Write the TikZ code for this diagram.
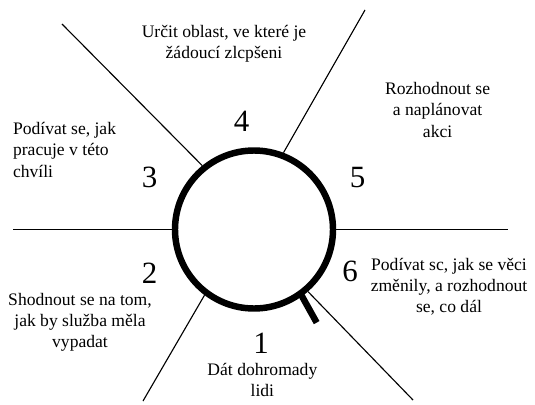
\documentclass[tikz,border=0pt]{standalone}
\usepackage{fontspec}
\setmainfont{Liberation Serif}
\usepackage{tikz}
\usetikzlibrary{positioning}

\begin{document}
\begin{tikzpicture}[
    ring/.style={draw, circle, line width=4.6pt, minimum size=3.95cm, inner sep=0pt},
    spoke/.style={line width=0.8pt},
    num/.style={font=\fontsize{22}{22}\selectfont, inner sep=0pt},
    stage/.style={font=\fontsize{12.5}{15}\selectfont, align=center, inner sep=0pt},
]
\useasboundingbox (-6.35,-4.3625) rectangle (7.025,5.7375);

\node[ring] (hub) at (0,0) {};

% free ends of the spokes
\coordinate (out0) at (6.35,0);
\coordinate (out69) at (2.775,5.4875);
\coordinate (out129) at (-4.8,5.1375);
\coordinate (out180) at (-6.025,0);
\coordinate (out233) at (-2.775,-4.2875);
\coordinate (out311) at (3.975,-4.2625);

\draw[spoke] (hub.0) -- (out0);
\draw[spoke] (hub.69) -- (out69);
\draw[spoke] (hub.129) -- (out129);
\draw[spoke] (hub.180) -- (out180);
\draw[spoke] (hub.233) -- (out233);
\draw[spoke] (hub.311) -- (out311);

% the handle
\draw[line width=4.6pt] (hub.center) ++(306:1.97) -- ++(-60.9:0.84) coordinate (grip);

\node[stage] (t4) at (-0.75,4.64) {Určit oblast, ve které je\\žádoucí zlcpšeni};
\node[num] (n4) at (-0.31,2.7) {4};
\node[stage] (t5) at (4.59,2.99) {Rozhodnout se\\a naplánovat\\akci};
\node[num] (n5) at (2.59,1.3) {5};
\node[stage, align=left, anchor=west] (t3) at (-6.03,1.99) {Podívat se, jak\\pracuje v této\\chvíli};
\node[num] (n3) at (-2.61,1.3) {3};
\node[num] (n2) at (-2.61,-1.09) {2};
\node[stage] (t2) at (-4.35,-2.31) {Shodnout se na tom,\\jak by služba měla\\vypadat};
\node[num] (n1) at (0.175,-2.84) {1};
\node[stage] (t1) at (0.21,-3.76) {Dát dohromady\\lidi};
\node[num] (n6) at (2.4,-1.05) {6};
\node[stage] (t6) at (4.875,-1.44) {Podívat sc, jak se věci\\změnily, a rozhodnout\\se, co dál};
\end{tikzpicture}
\end{document}
